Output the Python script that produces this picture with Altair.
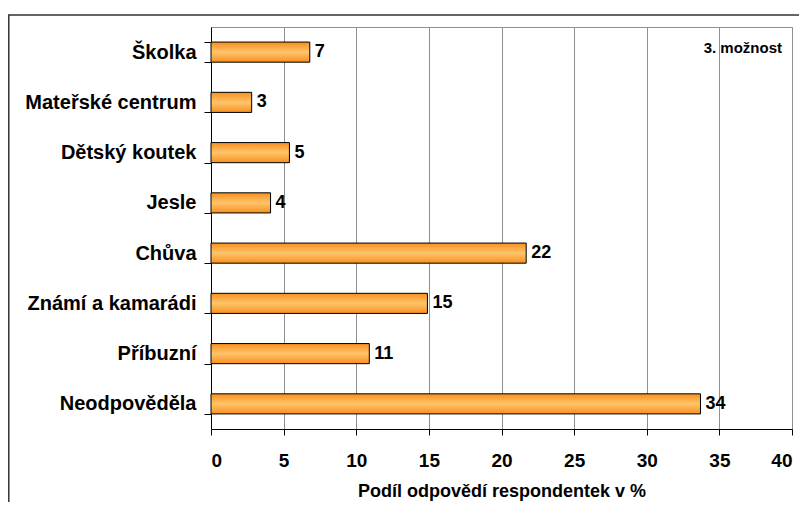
import altair as alt
import pandas as pd

categories = ["Školka", "Mateřské centrum", "Dětský koutek", "Jesle", "Chůva",
              "Známí a kamarádi", "Příbuzní", "Neodpověděla"]
values = [6.8, 2.8, 5.4, 4.1, 21.7, 14.9, 10.9, 33.7]
labels = ["7", "3", "5", "4", "22", "15", "11", "34"]
x_ticks = [0, 5, 10, 15, 20, 25, 30, 35, 40]

df = pd.DataFrame({"cat": categories, "val": values, "lab": labels})

FONT = "Liberation Sans"

gradient = alt.Gradient(
    gradient="linear", x1=0, y1=0, x2=0, y2=1,
    stops=[alt.GradientStop(color="#F7901E", offset=0),
           alt.GradientStop(color="#FFC46A", offset=0.5),
           alt.GradientStop(color="#F7901E", offset=1)],
)

base = alt.Chart(df)

bars = base.mark_bar(color=gradient, stroke="#000000", strokeWidth=1).encode(
    x=alt.X("val:Q", scale=alt.Scale(domain=[0, 40], nice=False),
            axis=alt.Axis(values=x_ticks, title="Podíl odpovědí respondentek v %",
                          grid=True, gridColor="#8f8f8f", gridWidth=1,
                          domainColor="#000000", tickColor="#000000", tickSize=6,
                          labelFont=FONT, labelFontSize=19, labelFontWeight="bold",
                          labelColor="#000000", labelPadding=16,
                          titleFont=FONT, titleFontSize=18, titleFontWeight="bold",
                          titleColor="#000000", titlePadding=12)),
    y=alt.Y("cat:N", sort=categories,
            scale=alt.Scale(paddingInner=0.6, paddingOuter=0.3),
            axis=alt.Axis(title=None, grid=False, tickBand="extent",
                          domainColor="#000000", tickColor="#000000", tickSize=7,
                          labelFont=FONT, labelFontSize=20, labelFontWeight="bold",
                          labelColor="#000000", labelPadding=8)),
)

text = base.mark_text(align="left", baseline="middle", dx=5, font=FONT,
                      fontSize=18, fontWeight="bold", color="#000000").encode(
    x="val:Q", y=alt.Y("cat:N", sort=categories), text="lab:N")

note = alt.Chart(pd.DataFrame({"t": ["3. možnost"]})).mark_text(
    align="right", baseline="middle", font=FONT, fontSize=15, fontWeight="bold",
    color="#000000").encode(x=alt.value(571), y=alt.value(21), text="t:N")

frame = alt.Chart(pd.DataFrame({"a": [0]})).mark_rect(
    fill=None, stroke="#333333", strokeWidth=1.5).encode(
    x=alt.value(-202.2), x2=alt.value(620), y=alt.value(-12), y2=alt.value(620))

chart = alt.layer(frame, bars, text, note).properties(
    width=581, height=402,
    autosize=alt.AutoSizeParams(type="none"),
    padding={"left": 203, "top": 19, "right": 7, "bottom": 73},
    background="#ffffff",
).configure_view(stroke="#8f8f8f", strokeWidth=1)

chart.save("out.html", embed_options={"renderer": "svg", "actions": False})
